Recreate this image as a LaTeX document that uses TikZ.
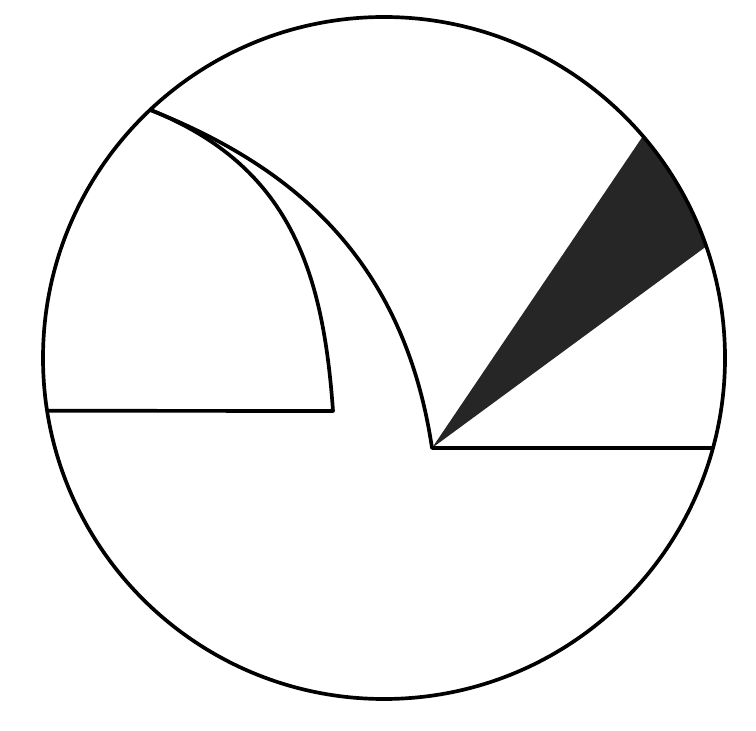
\documentclass[tikz,border=0pt]{standalone}
\usepackage{tikz}
\usetikzlibrary{calc}
\tikzstyle{outline} = [draw=black,line width=2.1pt,line join=round]
\tikzstyle{shaded}  = [fill=black!85]

\begin{document}
\begin{tikzpicture}[x=0.02cm,y=0.02cm]
  \useasboundingbox (0,0) rectangle (756,730);

  % Points on the rim
  \coordinate (centre) at (384,372);
  \coordinate (top)    at ($(centre)+(133.3:341)$);
  \coordinate (left)   at ($(centre)+(188.9:341)$);
  \coordinate (right)  at ($(centre)+(-15.3:341)$);
  \coordinate (wedgeA) at ($(centre)+(40.6:341)$);
  \coordinate (apex)   at (432,282);
  \coordinate (corner) at (333,319);

  % Dark wedge
  \fill[shaded] (apex) -- (wedgeA) arc[start angle=40.6,end angle=19.1,radius=341] -- cycle;

  % Circle
  \draw[outline] (centre) circle[radius=341];

  % Inner quarter and outer quarter
  \draw[outline] (top) .. controls ($(top)+(140,-56)$) and ($(corner)+(-10,140)$) .. (corner) -- (left);
  \draw[outline] (top) .. controls ($(top)+(130,-52)$) and ($(apex)+(-30,200)$) .. (apex) -- (right);
\end{tikzpicture}
\end{document}
